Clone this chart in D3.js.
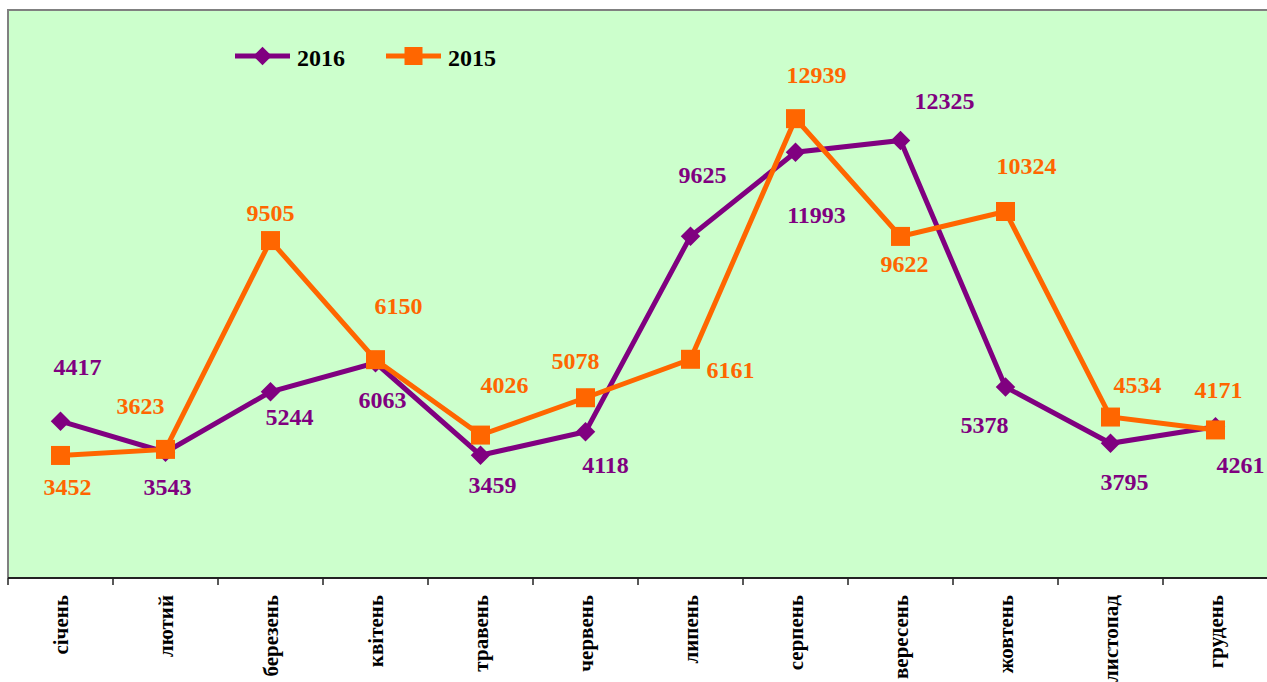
<!DOCTYPE html>
<html>
<head>
<meta charset="utf-8">
<script src="https://cdn.jsdelivr.net/npm/d3@7"></script>
<style>
  html, body { margin: 0; padding: 0; background: #ffffff; }
  svg { display: block; }
  text { font-family: "Liberation Serif", "Times New Roman", serif; font-weight: bold; }
</style>
</head>
<body>
<svg id="chart" width="1267" height="682"></svg>
<script>
// ---- data ----
const months = ["січень","лютий","березень","квітень","травень","червень","липень","серпень","вересень","жовтень","листопад","грудень"];
const values2016 = [4417, 3543, 5244, 6063, 3459, 4118, 9625, 11993, 12325, 5378, 3795, 4261];
const values2015 = [3452, 3623, 9505, 6150, 4026, 5078, 6161, 12939, 9622, 10324, 4534, 4171];
const seriesNames = ["2016", "2015"];
const yDomain = [0, 16000];

// ---- layout (label offsets relative to their point, in px) ----
const labelOffsets2016 = [[17,-54],[2,35],[19,25],[7,37],[12,30],[20,33],[12,-61],[21,63],[44,-39],[-21,38],[14,39],[25,38]];
const labelOffsets2015 = [[7,32],[-25,-43],[0,-28],[23,-54],[24,-50],[-10,-37],[40,11],[21,-44],[4,28],[21,-45],[27,-32],[3,-40]];

const colors = { "2016": "#800080", "2015": "#FF6600" };

const svg = d3.select("#chart");
const plot = { left: 9, right: 1268, top: 10, bottom: 578 };

const x = d3.scaleBand().domain(months).range([8, 1268]).padding(0);
const y = d3.scaleLinear().domain(yDomain).range([plot.bottom, plot.top]);
const cx = m => x(m) + x.bandwidth() / 2;

// background
svg.append("rect")
  .attr("x", plot.left).attr("y", plot.top)
  .attr("width", plot.right - plot.left).attr("height", plot.bottom - plot.top)
  .attr("fill", "#CCFFCC");
// border (left & top)
svg.append("line").attr("x1", 8).attr("x2", 8).attr("y1", 9).attr("y2", 578)
  .attr("stroke", "#808080").attr("stroke-width", 2);
svg.append("line").attr("x1", 8).attr("x2", 1267).attr("y1", 10).attr("y2", 10)
  .attr("stroke", "#808080").attr("stroke-width", 2);

// x axis
const axisG = svg.append("g").attr("transform", `translate(0,${plot.bottom})`);
axisG.append("line").attr("x1", 8).attr("x2", 1267).attr("y1", 0).attr("y2", 0)
  .attr("stroke", "#222").attr("stroke-width", 2);
const tickPos = months.map(m => x(m)).concat([x(months[months.length-1]) + x.bandwidth()]);
axisG.selectAll("line.tick").data(tickPos).enter().append("line")
  .attr("class", "tick")
  .attr("x1", d => d).attr("x2", d => d).attr("y1", 0).attr("y2", 7)
  .attr("stroke", "#222").attr("stroke-width", 1.5);
axisG.selectAll("text.lbl").data(months).enter().append("text")
  .attr("class", "lbl")
  .attr("transform", d => `translate(${cx(d)},17) rotate(-90)`)
  .attr("text-anchor", "end")
  .attr("dominant-baseline", "central")
  .attr("font-size", 21)
  .attr("fill", "#000")
  .text(d => d);

// lines
const line = d3.line().x(d => cx(d.m)).y(d => y(d.v));
const d2016 = months.map((m, i) => ({ m, v: values2016[i], off: labelOffsets2016[i] }));
const d2015 = months.map((m, i) => ({ m, v: values2015[i], off: labelOffsets2015[i] }));

function drawSeries(data, color, marker) {
  svg.append("path").datum(data).attr("d", line)
    .attr("fill", "none").attr("stroke", color).attr("stroke-width", 5)
    .attr("stroke-linejoin", "miter");
  const g = svg.append("g");
  if (marker === "diamond") {
    g.selectAll("path.mk").data(data).enter().append("path")
      .attr("d", d3.symbol().type(d3.symbolSquare).size(190))
      .attr("transform", d => `translate(${cx(d.m)},${y(d.v)}) rotate(45)`)
      .attr("fill", color);
  } else {
    g.selectAll("rect.mk").data(data).enter().append("rect")
      .attr("x", d => cx(d.m) - 9.5).attr("y", d => y(d.v) - 9.5)
      .attr("width", 19).attr("height", 19)
      .attr("fill", color);
  }
}
function drawLabels(data, color) {
  svg.append("g").selectAll("text").data(data).enter().append("text")
    .attr("x", d => cx(d.m) + d.off[0])
    .attr("y", d => y(d.v) + d.off[1])
    .attr("text-anchor", "middle")
    .attr("dominant-baseline", "central")
    .attr("font-size", 24)
    .attr("fill", color)
    .text(d => d.v);
}
drawSeries(d2016, colors["2016"], "diamond");
drawSeries(d2015, colors["2015"], "square");
drawLabels(d2016, colors["2016"]);
drawLabels(d2015, colors["2015"]);

// legend
const legend = [
  { name: seriesNames[0], x0: 235, marker: "diamond" },
  { name: seriesNames[1], x0: 386, marker: "square" }
];
const ly = 56;
legend.forEach(l => {
  const c = colors[l.name];
  svg.append("line").attr("x1", l.x0).attr("x2", l.x0 + 55).attr("y1", ly).attr("y2", ly)
    .attr("stroke", c).attr("stroke-width", 5);
  if (l.marker === "diamond") {
    svg.append("path").attr("d", d3.symbol().type(d3.symbolSquare).size(170))
      .attr("transform", `translate(${l.x0 + 27.5},${ly}) rotate(45)`).attr("fill", c);
  } else {
    svg.append("rect").attr("x", l.x0 + 27.5 - 9).attr("y", ly - 9)
      .attr("width", 18).attr("height", 18).attr("fill", c);
  }
  svg.append("text").attr("x", l.x0 + 62).attr("y", ly + 2)
    .attr("dominant-baseline", "central")
    .attr("font-size", 24).attr("fill", "#000").text(l.name);
});
</script>
</body>
</html>
